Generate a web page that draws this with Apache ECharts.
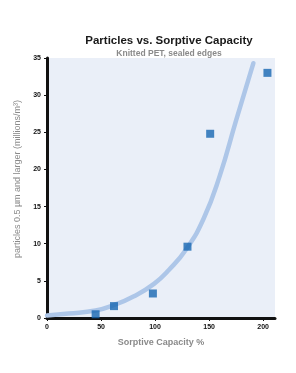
<!DOCTYPE html>
<html>
<head>
<meta charset="utf-8">
<script src="https://cdn.jsdelivr.net/npm/echarts@6/dist/echarts.min.js"></script>
<style>
  html, body { margin: 0; padding: 0; background: #fff; }
  #chart { width: 296px; height: 373px; }
</style>
</head>
<body>
<div id="chart"></div>
<script>
// measured points (Sorptive Capacity %, particles millions/m3)
const pointX = [45, 62, 98, 130, 151, 204];
const pointY = [0.5, 1.6, 3.3, 9.6, 24.8, 33.0];

// trend curve
const curveX = [0, 20, 45, 62, 80, 99, 113, 129, 145, 160, 175, 191];
const curveY = [0.35, 0.6, 1.0, 1.75, 2.9, 4.6, 6.5, 9.3, 13.4, 19.2, 26.6, 34.3];

const xTicks = [0, 50, 100, 150, 200];
const yTicks = [0, 5, 10, 15, 20, 25, 30, 35];

const chart = echarts.init(document.getElementById('chart'));

const font = 'Liberation Sans, Arial, sans-serif';

chart.setOption({
  backgroundColor: '#fff',
  animation: false,
  title: {
    text: 'Particles vs. Sorptive Capacity',
    subtext: 'Knitted PET, sealed edges',
    left: 164,
    textAlign: 'center',
    top: 30,
    itemGap: 2,
    textStyle: { fontFamily: font, fontSize: 11.5, fontWeight: 'bold', color: '#1a1a1a' },
    subtextStyle: { fontFamily: font, fontSize: 8.5, fontWeight: 'bold', color: '#8a8a8a' }
  },
  grid: {
    left: 47,
    right: 21,
    top: 58,
    bottom: 55,
    show: true,
    backgroundColor: '#eaeff8',
    borderWidth: 0
  },
  xAxis: {
    type: 'value',
    min: 0,
    max: 211,
    interval: 50,
    name: 'Sorptive Capacity %',
    nameLocation: 'middle',
    nameGap: 20,
    nameTextStyle: { fontFamily: font, fontSize: 9, fontWeight: 'bold', color: '#8a8a8a' },
    axisLine: { show: true, lineStyle: { color: '#111', width: 3 } },
    axisTick: { show: true, length: 3, lineStyle: { color: '#111', width: 1 } },
    axisLabel: {
      showMaxLabel: false,
      fontFamily: font, fontSize: 7, fontWeight: 'bold', color: '#111', margin: 6,
      formatter: v => xTicks.includes(v) ? String(v) : ''
    },
    splitLine: { show: false }
  },
  yAxis: {
    type: 'value',
    min: 0,
    max: 35,
    interval: 5,
    name: 'particles 0.5 µm and larger (millions/m³)',
    nameLocation: 'middle',
    nameGap: 21,
    nameTextStyle: { fontFamily: font, fontSize: 9, color: '#8a8a8a', padding: [0, 0, 0, 18] },
    axisLine: { show: true, lineStyle: { color: '#111', width: 3 } },
    axisTick: { show: true, length: 3, lineStyle: { color: '#111', width: 1 } },
    axisLabel: {
      fontFamily: font, fontSize: 7, fontWeight: 'bold', color: '#111', margin: 6,
      formatter: v => yTicks.includes(v) ? String(v) : ''
    },
    splitLine: { show: false }
  },
  series: [
    {
      name: 'trend',
      type: 'line',
      smooth: true,
      symbol: 'none',
      data: curveX.map((x, i) => [x, curveY[i]]),
      lineStyle: { color: '#adc6e8', width: 4.5, cap: 'round' },
      z: 2
    },
    {
      name: 'measured',
      type: 'scatter',
      symbol: 'rect',
      symbolSize: 8,
      data: pointX.map((x, i) => [x, pointY[i]]),
      itemStyle: { color: '#1766b2' },
      z: 3
    }
  ]
});
</script>
</body>
</html>
